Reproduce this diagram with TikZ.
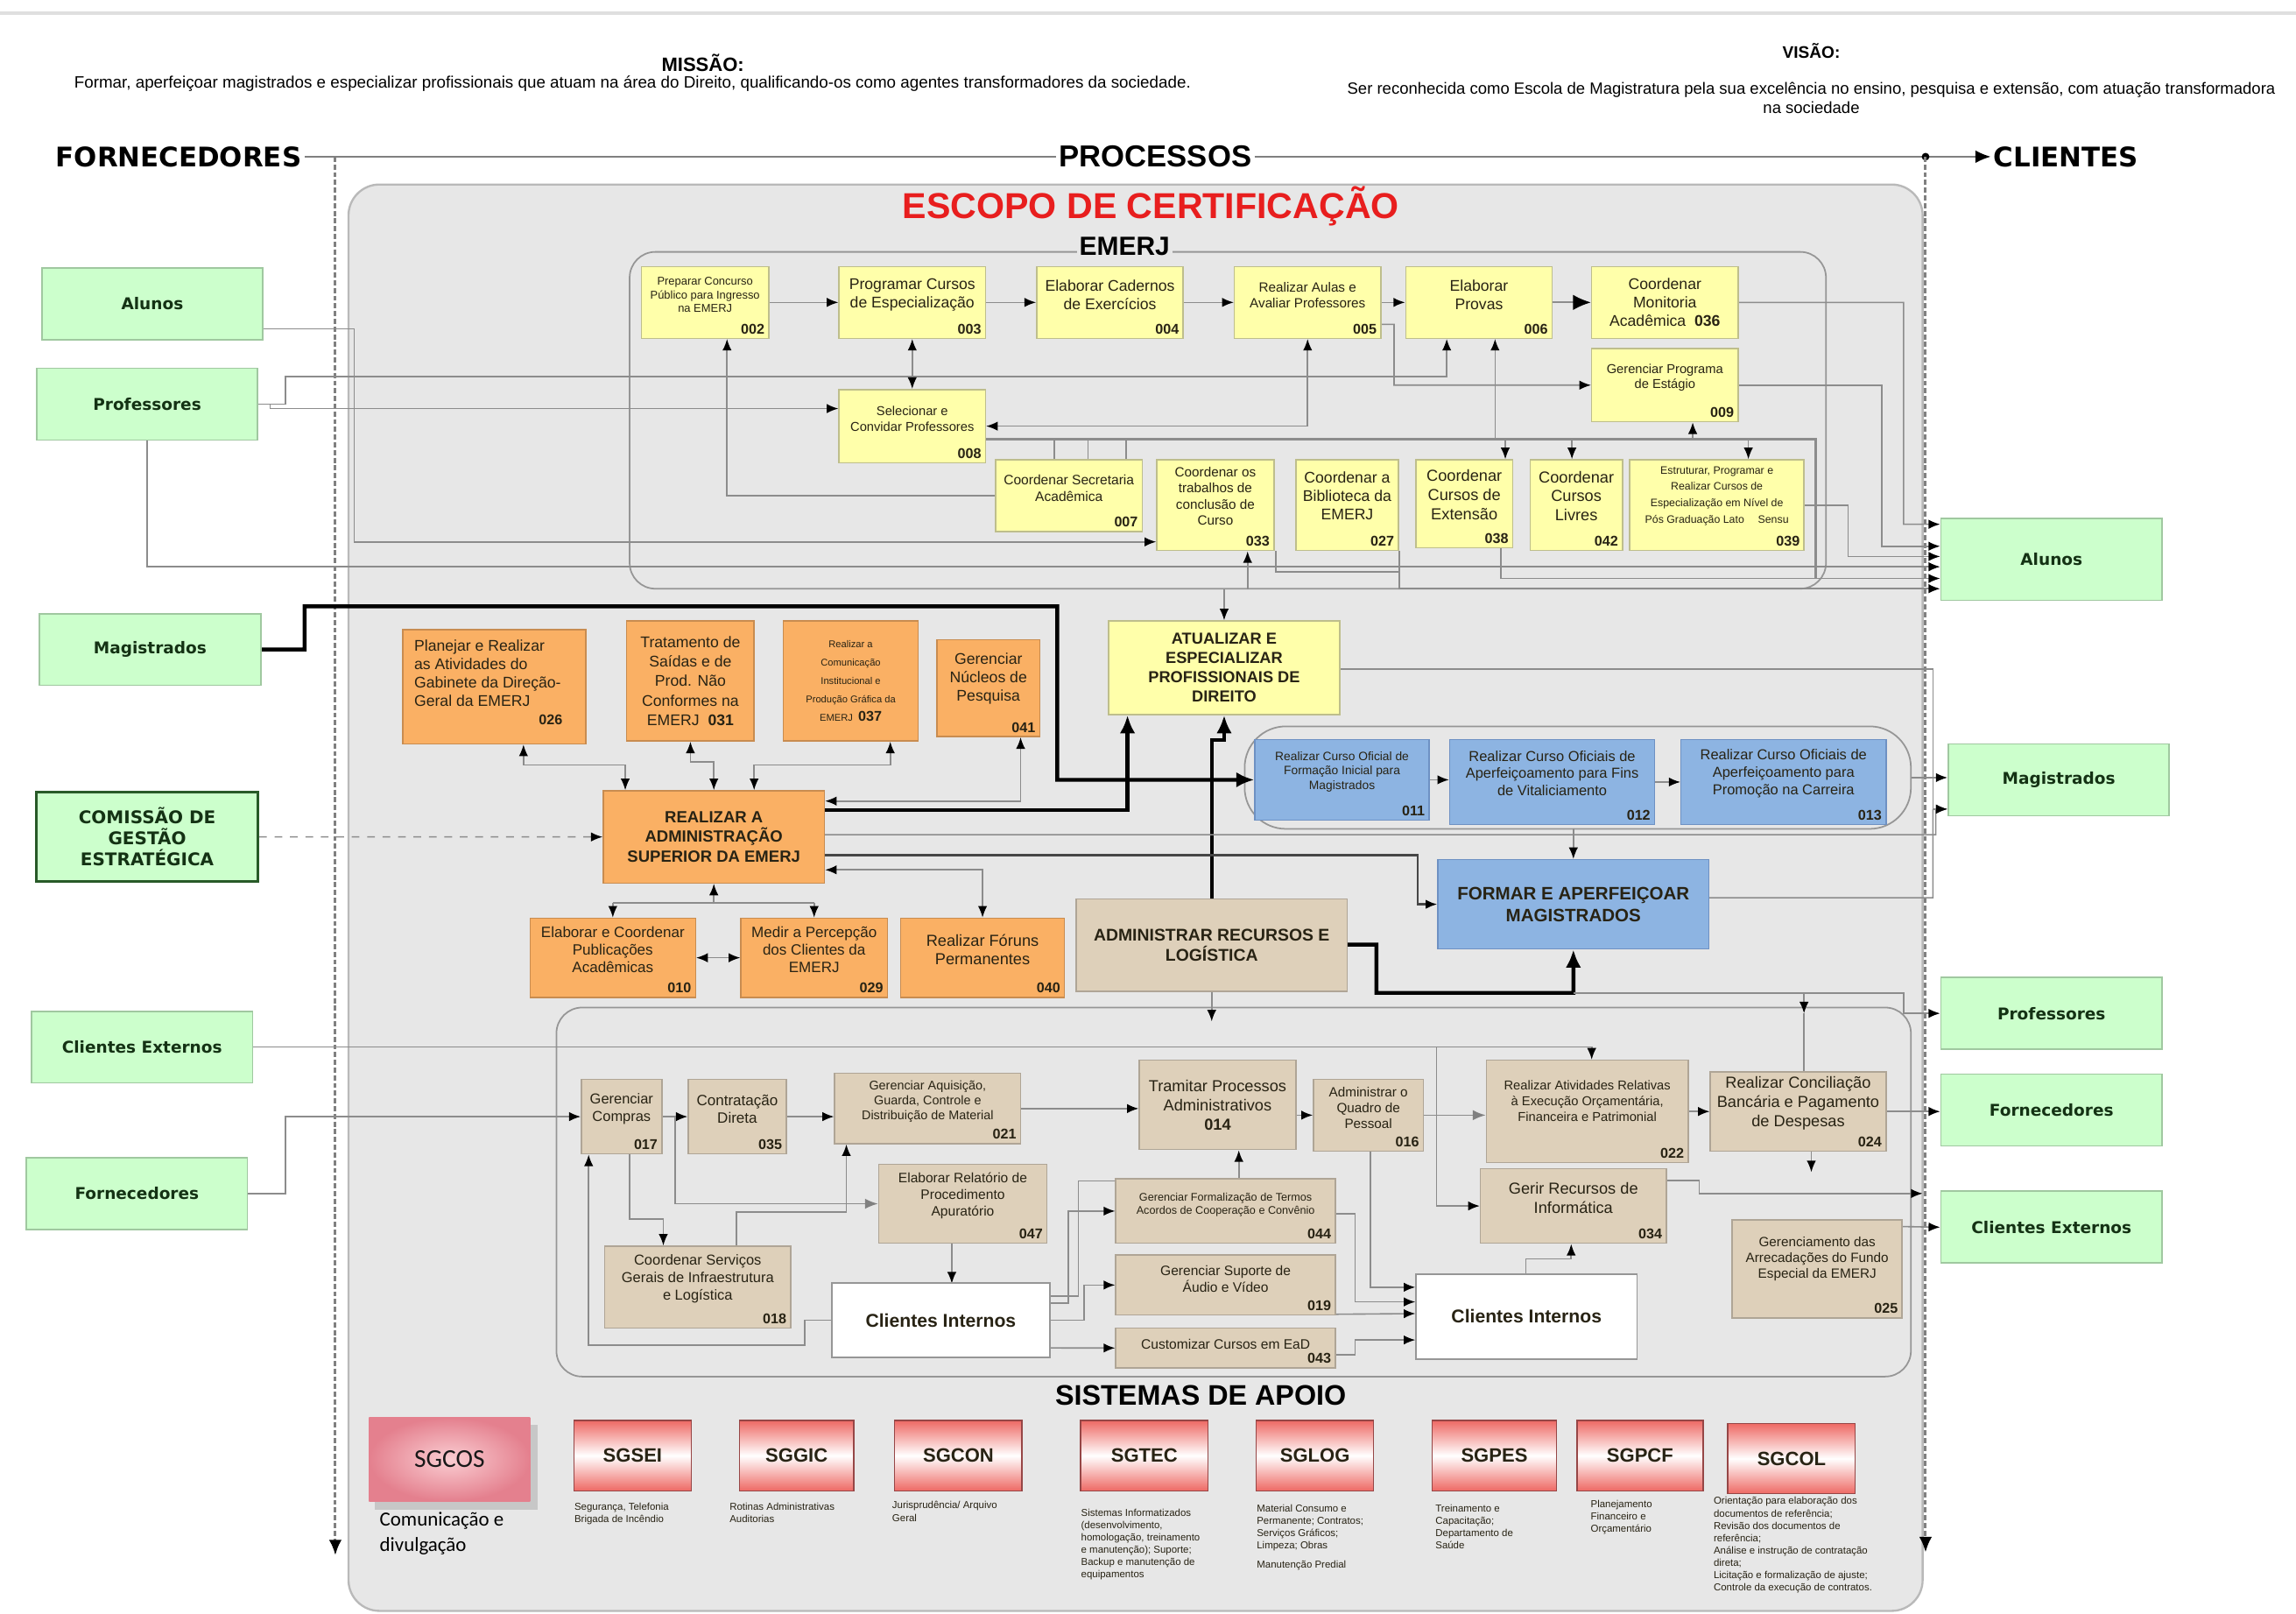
\documentclass[tikz,border=0pt]{standalone}
\usepackage{fontspec}
\setmainfont{Liberation Sans}
\newfontfamily\dejavu{DejaVu Sans}
\newfontfamily\carlito{Carlito}
\usetikzlibrary{arrows.meta,calc,fit}
\pgfdeclarelayer{back}
\pgfdeclarelayer{mid}
\pgfsetlayers{back,mid,main}

\definecolor{lgray}{RGB}{140,140,140}
\definecolor{dgray}{RGB}{70,70,70}
\definecolor{cgray}{RGB}{150,150,150}
\definecolor{scf}{RGB}{231,231,231}
\definecolor{scb}{RGB}{185,185,185}
\definecolor{yfill}{RGB}{255,255,170}
\definecolor{ydraw}{RGB}{190,190,140}
\definecolor{ofill}{RGB}{250,176,100}
\definecolor{odraw}{RGB}{200,140,80}
\definecolor{tfill}{RGB}{222,208,186}
\definecolor{tdraw}{RGB}{175,165,150}
\definecolor{bfill}{RGB}{141,180,226}
\definecolor{bdraw}{RGB}{110,145,195}
\definecolor{gfill}{RGB}{204,255,204}
\definecolor{gdraw}{RGB}{160,200,160}
\definecolor{gdark}{RGB}{40,90,40}
\definecolor{gtext}{RGB}{20,50,20}
\definecolor{escred}{RGB}{232,30,30}
\definecolor{pred}{RGB}{238,105,100}
\definecolor{pdraw}{RGB}{150,70,70}
\definecolor{tcol}{RGB}{40,35,20}
\definecolor{cosin}{RGB}{250,205,210}
\definecolor{cosout}{RGB}{228,128,142}

\newcommand\fs[1]{\fontsize{#1}{\fpeval{#1*1.2}}\selectfont}

\newcommand\bx[9]{%
  \node[#6, fit={(#2,#3) (#4,#5)}] (#1) {};
  \node[font={#7}, align=center, inner sep=0pt, text=tcol] at ($(#1.north)!0.4!(#1.south)$) {#8};
  \node[font=\fs{5.5}\bfseries, anchor=south east, inner sep=0pt, text=tcol] at ($(#1.south east)+(-3,-3)$) {#9};
}
\newcommand\bxc[8]{%
  \node[#6, fit={(#2,#3) (#4,#5)}] (#1) {};
  \node[font={#7}, align=center, inner sep=0pt, text=tcol] at (#1.center) {#8};
}

\begin{document}
\begin{tikzpicture}[x=0.02cm, y=-0.02cm,
  ybox/.style={draw=ydraw, fill=yfill, inner sep=0pt, line width=0.5pt},
  obox/.style={draw=odraw, fill=ofill, inner sep=0pt, line width=0.5pt},
  tbox/.style={draw=tdraw, fill=tfill, inner sep=0pt, line width=0.5pt},
  bbox/.style={draw=bdraw, fill=bfill, inner sep=0pt, line width=0.5pt},
  wbox/.style={draw=cgray, fill=white, inner sep=0pt, line width=0.5pt},
  gbox/.style={draw=gdraw, fill=gfill, line width=0.6pt, minimum width=3.02cm, minimum height=0.98cm, inner sep=1pt, font=\dejavu\bfseries\fs{6.3}, text=gtext, align=center},
  pbox/.style={draw=pdraw, line width=0.5pt, inner sep=0pt, top color=pred, bottom color=pred, middle color=white},
  cont/.style={draw=cgray, line width=0.6pt, inner sep=0pt, rounded corners=10pt},
  ln/.style={draw=lgray, line width=0.55pt},
  ar/.style={ln, -{Latex[length=4.5pt,width=3.6pt,color=black]}},
  ar2/.style={ln, {Latex[length=4.5pt,width=3.6pt,color=black]}-{Latex[length=4.5pt,width=3.6pt,color=black]}},
  thk/.style={draw=black, line width=1.5pt, -{Latex[length=7pt,width=6pt]}},
  hdr/.style={draw=gray, line width=0.7pt},
  vd/.style={draw=gray, line width=1pt, dash pattern=on 2pt off 1pt},
  capt/.style={font=\fontsize{3.9}{4.8}\selectfont, align=left, anchor=north west, inner sep=0pt, text=tcol},
  sglab/.style={font=\bfseries\fs{7.5}, text=tcol},
]
\useasboundingbox (0,0) rectangle (1568,1102);

\begin{pgfonlayer}{back}
\fill[white] (0,0) rectangle (1568,1102);
\draw[gray!25, line width=1.2pt] (0,9) -- (1568,9);
\node[fit={(238,126) (1313,1100)}, inner sep=0pt, draw=scb, fill=scf, line width=0.8pt, rounded corners=12pt] (scope) {};
\node[cont, fit={(430,172) (1247,402)}] (emerj) {};
\node[cont, fit={(850,496) (1305,566)}, rounded corners=16pt] (bcont) {};
\node[cont, fit={(380,688) (1305,940)}] (admc) {};
\end{pgfonlayer}

% ---------- header ----------
\node[font=\fs{7.5}\bfseries] (mis) at (480,43) {MISSÃO:};
\node[font=\fs{6.4}] (mist) at (432,57) {Formar, aperfeiçoar magistrados e especializar profissionais que atuam na área do Direito, qualificando-os como agentes transformadores da sociedade.};
\node[font=\fs{6.5}\bfseries] (vis) at (1237,35) {VISÃO:};
\node[font=\fs{6.3}, align=center] (vist) at (1237,67) {Ser reconhecida como Escola de Magistratura pela sua excelência no ensino, pesquisa e extensão, com atuação transformadora\\na sociedade};

\node[font=\dejavu\bfseries\fs{10.5}, inner sep=1pt] (forn) at (122,107) {FORNECEDORES};
\node[font=\bfseries\fs{11.8}, inner sep=1pt] (proc) at (789,107) {PROCESSOS};
\node[font=\dejavu\bfseries\fs{10.5}, inner sep=1pt] (cli) at (1411,107) {CLIENTES};
\coordinate (ldot) at (229,107);
\coordinate (rdot) at (1315,107);
\coordinate (lend) at (229,1062);
\coordinate (rend) at (1315,1060);

\node[font=\bfseries\fs{14}, text=escred] (esc) at (786,141) {ESCOPO DE CERTIFICAÇÃO};
\node[font=\bfseries\fs{10.2}, fill=scf, inner sep=1pt] (emt) at (768,168) {EMERJ};
\node[font=\bfseries\fs{11}] (sis) at (820,953) {SISTEMAS DE APOIO};

% ---------- green: suppliers / clients ----------
\node[gbox] (lal) at (104,207.5) {Alunos};
\node[gbox] (lpr) at (100.5,276) {Professores};
\node[gbox] (lmg) at (102.5,443.5) {Magistrados};
\node[gbox, draw=gdark, line width=1.1pt, minimum height=1.22cm, font=\dejavu\bfseries\fs{6.8}] (lcm) at (100.5,571.5) {COMISSÃO DE\\GESTÃO\\ESTRATÉGICA};
\node[gbox] (lce) at (97,715) {Clientes Externos};
\node[gbox] (lfo) at (93.5,815) {Fornecedores};

\node[gbox, minimum height=1.12cm] (ral) at (1401,382) {Alunos};
\node[gbox] (rmg) at (1406,532.5) {Magistrados};
\node[gbox] (rpr) at (1401,692) {Professores};
\node[gbox] (rfo) at (1401,758) {Fornecedores};
\node[gbox] (rce) at (1401,838) {Clientes Externos};

% ---------- EMERJ (yellow) ----------
\bx{n002}{438}{182}{525}{231}{ybox}{\fs{4.4}}{Preparar Concurso\\Público para Ingresso\\na EMERJ}{002}
\bx{n003}{573}{182}{673}{231}{ybox}{\fs{6}}{Programar Cursos\\de Especialização}{003}
\bx{n004}{708}{182}{808}{231}{ybox}{\fs{6}}{Elaborar Cadernos\\de Exercícios}{004}
\bx{n005}{843}{182}{943}{231}{ybox}{\fs{5.2}}{Realizar Aulas e\\Avaliar Professores}{005}
\bx{n006}{960}{182}{1060}{231}{ybox}{\fs{6}}{Elaborar\\Provas}{006}
\bxc{n036}{1087}{182}{1187}{231}{ybox}{\fs{6}}{Coordenar\\Monitoria\\Acadêmica \ \textbf{036}}
\bx{n009}{1087}{238}{1187}{288}{ybox}{\fs{5}}{Gerenciar Programa\\de Estágio}{009}
\bx{n008}{573}{266}{673}{316}{ybox}{\fs{5}}{Selecionar e\\Convidar Professores}{008}
\bx{n007}{680}{314}{780}{363}{ybox}{\fs{5.3}}{Coordenar Secretaria\\Acadêmica}{007}
\bx{n033}{790}{314}{870}{376}{ybox}{\fs{5.2}}{Coordenar os\\trabalhos de\\conclusão de\\Curso}{033}
\bx{n027}{885}{314}{955}{376}{ybox}{\fs{6}}{Coordenar a\\Biblioteca da\\EMERJ}{027}
\bx{n038}{967}{314}{1033}{374}{ybox}{\fs{6.2}}{Coordenar\\Cursos de\\Extensão}{038}
\bx{n042}{1045}{314}{1108}{376}{ybox}{\fs{6.2}}{Coordenar\\Cursos\\Livres}{042}
\bx{n039}{1113}{314}{1232}{376}{ybox}{\fontsize{4.2}{6.4}\selectfont}{Estruturar, Programar e\\Realizar Cursos de\\Especialização em Nível de\\Pós Graduação Lato \quad Sensu}{039}
\bxc{atu}{757}{424}{915}{488}{ybox}{\bfseries\fs{6.2}}{ATUALIZAR E\\ESPECIALIZAR\\PROFISSIONAIS DE\\DIREITO}

% ---------- orange ----------
\node[obox, fit={(275,430) (400,508)}] (n026) {};
\node[font=\fs{6}, align=left, anchor=north west, inner sep=0pt, text=tcol] at ($(n026.north west)+(8,7)$) {Planejar e Realizar\\as Atividades do\\Gabinete da Direção-\\Geral da EMERJ};
\node[font=\fs{5.5}\bfseries, anchor=east, inner sep=0pt, text=tcol] at ($(n026.north east)+(-16,62)$) {026};
\bxc{n031}{428}{424}{515}{506}{obox}{\fontsize{6}{7.6}\selectfont}{Tratamento de\\Saídas e de\\Prod. Não\\Conformes na\\EMERJ \ \textbf{031}}
\bxc{n037}{535}{424}{627}{506}{obox}{\fontsize{3.8}{7.2}\selectfont}{Realizar a\\Comunicação\\Institucional e\\Produção Gráfica da\\EMERJ \ {\fontsize{5.5}{6}\selectfont\bfseries 037}}
\bx{n041}{640}{437}{710}{503}{obox}{\fs{6}}{Gerenciar\\Núcleos de\\Pesquisa}{041}
\bxc{ras}{412}{540}{563}{603}{obox}{\bfseries\fs{6.3}}{REALIZAR A\\ADMINISTRAÇÃO\\SUPERIOR DA EMERJ}
\bx{n010}{362}{627}{475}{681}{obox}{\fs{5.8}}{Elaborar e Coordenar\\Publicações\\Acadêmicas}{010}
\bx{n029}{506}{627}{606}{681}{obox}{\fs{5.8}}{Medir a Percepção\\dos Clientes da\\EMERJ}{029}
\bx{n040}{615}{627}{727}{681}{obox}{\fs{6.2}}{Realizar Fóruns\\Permanentes}{040}

% ---------- blue / administrative ----------
\bxc{arl}{735}{614}{920}{677}{tbox}{\bfseries\fs{6.6}}{ADMINISTRAR RECURSOS E\\LOGÍSTICA}
\bx{n011}{857}{505}{976}{560}{bbox}{\fs{4.7}}{Realizar Curso Oficial de\\Formação Inicial para\\Magistrados}{011}
\bx{n012}{990}{505}{1130}{563}{bbox}{\fs{5.6}}{Realizar Curso Oficiais de\\Aperfeiçoamento para Fins\\de Vitaliciamento}{012}
\bx{n013}{1148}{505}{1288}{563}{bbox}{\fs{5.6}}{Realizar Curso Oficiais de\\Aperfeiçoamento para\\Promoção na Carreira}{013}
\bxc{fam}{982}{587}{1167}{648}{bbox}{\bfseries\fs{7}}{FORMAR E APERFEIÇOAR\\MAGISTRADOS}

% ---------- tan (bottom) ----------
\bx{n017}{397}{737}{452}{788}{tbox}{\fs{5.6}}{Gerenciar\\Compras}{017}
\bx{n035}{470}{737}{537}{788}{tbox}{\fs{5.8}}{Contratação\\Direta}{035}
\bx{n021}{570}{733}{697}{781}{tbox}{\fs{4.9}}{Gerenciar Aquisição,\\Guarda, Controle e\\Distribuição de Material}{021}
\bxc{n014}{778}{724}{885}{785}{tbox}{\fs{6.2}}{Tramitar Processos\\Administrativos\\\textbf{014}}
\bx{n016}{897}{737}{972}{786}{tbox}{\fs{5.2}}{Administrar o\\Quadro de\\Pessoal}{016}
\bx{n022}{1015}{724}{1153}{794}{tbox}{\fs{5}}{Realizar Atividades Relativas\\à Execução Orçamentária,\\Financeira e Patrimonial}{022}
\bx{n024}{1168}{732}{1288}{786}{tbox}{\fs{6.2}}{Realizar Conciliação\\Bancária e Pagamento\\de Despesas}{024}
\bx{n047}{600}{795}{715}{849}{tbox}{\fs{5.3}}{Elaborar Relatório de\\Procedimento\\Apuratório}{047}
\bx{n044}{762}{805}{912}{849}{tbox}{\fs{4.3}}{Gerenciar Formalização de Termos\\Acordos de Cooperação e Convênio}{044}
\bx{n034}{1011}{798}{1138}{849}{tbox}{\fs{6.2}}{Gerir Recursos de\\Informática}{034}
\bx{n018}{413}{851}{540}{907}{tbox}{\fs{5.6}}{Coordenar Serviços\\Gerais de Infraestrutura\\e Logística}{018}
\bxc{ci1}{568}{876}{717}{927}{wbox}{\bfseries\fs{7.2}}{Clientes Internos}
\bx{n019}{762}{857}{912}{898}{tbox}{\fs{5.3}}{Gerenciar Suporte de\\Áudio e Vídeo}{019}
\bx{n043}{762}{907}{912}{934}{tbox}{\fs{5.3}}{Customizar Cursos em EaD}{043}
\bxc{ci2}{967}{870}{1118}{928}{wbox}{\bfseries\fs{7.2}}{Clientes Internos}
\bx{n025}{1183}{833}{1299}{900}{tbox}{\fs{5.2}}{Gerenciamento das\\Arrecadações do Fundo\\Especial da EMERJ}{025}

% ---------- support systems ----------
\fill[black!22] (256,973) rectangle (367,1031);
\node[fit={(252,968) (362,1025)}, inner sep=0pt, inner color=cosin, outer color=cosout, label={[font=\carlito\fs{10}, text=black!90]center:SGCOS}] (sgcos) {};
\node[pbox, fit={(392,970) (472,1018)}, label={[sglab]center:SGSEI}] (sgsei) {};
\node[pbox, fit={(505,970) (583,1018)}, label={[sglab]center:SGGIC}] (sggic) {};
\node[pbox, fit={(611,970) (698,1018)}, label={[sglab]center:SGCON}] (sgcon) {};
\node[pbox, fit={(738,970) (825,1018)}, label={[sglab]center:SGTEC}] (sgtec) {};
\node[pbox, fit={(858,970) (938,1018)}, label={[sglab]center:SGLOG}] (sglog) {};
\node[pbox, fit={(978,970) (1063,1018)}, label={[sglab]center:SGPES}] (sgpes) {};
\node[pbox, fit={(1077,970) (1163,1018)}, label={[sglab]center:SGPCF}] (sgpcf) {};
\node[pbox, fit={(1180,972) (1267,1020)}, label={[sglab]center:SGCOL}] (sgcol) {};

\node[font=\carlito\fontsize{7.8}{10}\selectfont, align=left, anchor=north west, inner sep=0pt] at (259,1032) {Comunicação e\\divulgação};
\node[capt] at (392,1026) {Segurança, Telefonia\\Brigada de Incêndio};
\node[capt] at (498,1026) {Rotinas Administrativas\\Auditorias};
\node[capt] at (609,1025) {Jurisprudência/ Arquivo\\Geral};
\node[capt] at (738,1030) {Sistemas Informatizados\\(desenvolvimento,\\homologação, treinamento\\e manutenção); Suporte;\\Backup e manutenção de\\equipamentos};
\node[capt] at (858,1027) {Material Consumo e\\Permanente; Contratos;\\Serviços Gráficos;\\Limpeza; Obras\\[2.5pt]Manutenção Predial};
\node[capt] at (980,1027) {Treinamento e\\Capacitação;\\Departamento de\\Saúde};
\node[capt] at (1086,1024) {Planejamento\\Financeiro e\\Orçamentário};
\node[capt] at (1170,1022) {Orientação para elaboração dos\\documentos de referência;\\Revisão dos documentos de\\referência;\\Análise e instrução de contratação\\direta;\\Licitação e formalização de ajuste;\\Controle da execução de contratos.};

% ================= connectors =================
\begin{pgfonlayer}{mid}
% header axis
\draw[hdr] (forn.east) -- (proc.west);
\draw[hdr, -{Latex[length=6pt,width=5pt,color=black]}] (proc.east) -- (cli.west);
\fill (rdot) circle (1.5pt);
\draw[vd, -{Latex[length=6pt,width=5pt,color=black]}] (ldot) -- (lend);
\draw[vd, -{Latex[length=6pt,width=5pt,color=black]}] (rdot) -- (rend);

% suppliers
\draw[ar] ($(lal.east)+(0,17)$) -- (242,224.5) -- (242,370) -- ($(n033.west)+(0,25)$);
\draw[ar] (lpr.east) -- ++(8,0) |- ($(n008.west)+(0,-12)$);
\draw[ar] (lpr.east) -- (195,276) -- (195,257) -| ($(n006.south)+(-22,0)$);
\draw[ar] (lpr.south) |- ($(ral.west)+(0,5)$);
\draw[thk] (lmg.east) -- (208,443.5) -- (208,414) -- (722,414) -- (722,532.5) -- (n011.west);
\draw[ar, dashed] (lcm.east) -- (ras.west);
\draw[ar] (lce.east) -| ($(n022.north)+(3,0)$);
\draw[ar] (981,715) |- (n034.west);
\draw[ar] (lfo.east) -- (195,815) |- (n017.west);

% EMERJ internal
\draw[ar] (n002.east) -- (n003.west);
\draw[ar] (n003.east) -- (n004.west);
\draw[ar] (n004.east) -- (n005.west);
\draw[ar] (n005.east) -- (n006.west);
\draw[draw=lgray, line width=0.8pt, -{Latex[length=7pt,width=6pt,color=black]}] (n006.east) -- (n036.west);
\draw[ar2] (n003.south) -- (n008.north);
\draw[ar] (n007.west) -| ($(n002.south)+(15,0)$);
\draw[ar2] (n008.east) -| (n005.south);
\draw[ar] ($(n005.east)+(0,15)$) -- (952,221.5) |- (n009.west);
\draw[ln, line width=0.9pt] ($(n008.east)+(0,9)$) -- (1240,300) -- (1240,395);
\draw[ln] ($(n007.north)+(-10,0)$) -- ++(0,-14);
\draw[ln] ($(n007.north)+(13,0)$) -- ++(0,-14);
\draw[ln] ($(n007.north)+(39,0)$) -- ++(0,-14);
\draw[ar] ($(n038.north)+(28,-14)$) -- ($(n038.north)+(28,0)$);
\draw[ar] ($(n042.north)+(-3,-14)$) -- ($(n042.north)+(-3,0)$);
\draw[ar] ($(n039.north)+(21.5,-14)$) -- ($(n039.north)+(21.5,0)$);
\draw[ar] ($(n009.south)+(19,12)$) -- ($(n009.south)+(19,0)$);
\draw[ar] ($(n006.south)+(11,69)$) -- ($(n006.south)+(11,0)$);
\draw[ar] ($(n033.south)+(22,26)$) -- ($(n033.south)+(22,0)$);

% EMERJ -> Alunos
\draw[ar] (n036.east) -- (1300,206.5) |- ($(ral.west)+(0,-24)$);
\draw[ar] (n009.east) -- (1285,263) |- ($(ral.west)+(0,-9)$);
\draw[ar] (n039.east) -- (1262,345) |- ($(ral.west)+(0,-2)$);
\draw[ar] ($(n038.south)+(25,0)$) |- ($(ral.west)+(0,13)$);
\draw[ar] (n027.south east) |- ($(ral.west)+(0,20)$);
\draw[ln] ($(n033.south east)+(1,0)$) -- ++(0,14) -- ++(85,0);

% EMERJ -> ATU
\draw[ar] (emerj.south -| atu.north) -- (atu.north);

% thick flows
\draw[thk] ($(ras.east)+(0,-18.5)$) -| ($(atu.south)+(-66,0)$);
\draw[thk] (arl.north) |- ($(atu.south)+(0,17)$) -- (atu.south);
\draw[thk] ($(arl.east)+(0,-0.5)$) -- (940,645) -- (940,678) -| (fam.south);
\draw[ar] (1074.5,678) -- (1300,678) |- (rpr.west);
\draw[ar] (1232,678) -- (1232,692);
\draw[ln] (1232,692) -- ($(n024.north)+(4,0)$);

% blue
\draw[ar] (n011.east) -- (n011.east -| n012.west);
\draw[ar] (n012.east) -- (n012.east -| n013.west);
\draw[ar] ($(fam.north)+(0,-21)$) -- (fam.north);
\draw[ar, draw=dgray, line width=0.8pt] ($(ras.east)+(0,12.5)$) -- (968,584) |- (fam.west);
\draw[ar] ($(ras.east)+(0,-1.5)$) -- (1322,570) |- ($(rmg.west)+(0,20)$);
\draw[ar] ($(atu.east)+(0,1)$) -- (1320,457) |- ($(rmg.west)+(0,20)$);
\draw[ln] ($(fam.east)+(0,-4.5)$) -- (1320,613) -- (1320,552.5);
\draw[ar] (bcont.east) -- (rmg.west |- bcont.east);

% orange
\draw[ar2] ($(n026.south)+(20,0)$) -- ++(0,14) -| ($(ras.north)+(-60.5,0)$);
\draw[ar2] (n031.south) -- ++(0,14) -| (ras.north);
\draw[ar2] ($(n037.south)+(27,0)$) -- ++(0,16) -| ($(ras.north)+(27.5,0)$);
\draw[ar2] ($(n041.south)+(22,0)$) |- ($(ras.east)+(0,-24.5)$);
\draw[ln] ($(n010.north)+(0,-10)$) -- ($(n029.north)+(0,-10)$);
\draw[ar] ($(n010.north)+(0,-10)$) -- (n010.north);
\draw[ar] ($(n029.north)+(0,-10)$) -- (n029.north);
\draw[ar] ($(ras.south)+(0,14)$) -- (ras.south);
\draw[ar2] ($(ras.east)+(0,22.5)$) -| (n040.north);
\draw[ar2] (n010.east) -- (n029.west);

% administration
\draw[ar] (arl.south) -- ++(0,20);
\draw[ar] (n017.east) -- (n035.west);
\draw[ar] (n035.east) -- (n035.east -| n021.west);
\draw[ar] (n021.east) -- (n021.east -| n014.west);
\draw[ar] ($(n014.east)+(0,7)$) -- (n016.west);
\draw[ln, -{Latex[length=5pt,width=4pt,color=gray]}] (n016.east) -- (n016.east -| n022.west);
\draw[ar] (n022.east) -- (n022.east -| n024.west);
\draw[ar] ($(n017.south)+(5.5,0)$) -- ++(0,44) -| ($(n018.north)+(-23.5,0)$);
\draw[ln, -{Latex[length=5pt,width=4pt,color=gray]}] ($(n017.east)!0.5!(n035.west)$) |- (n047.west);
\draw[ar] ($(n018.north)+(26.5,0)$) -- ++(0,-23) -| ($(n021.south)+(-55.5,0)$);
\draw[ar] ($(n047.south)+(-7.5,0)$) -- ++(0,27);
\draw[ar] (ci1.west) -- ++(-18,0) -- ++(0,17) -| ($(n017.south)+(-22.5,0)$);
\draw[ar] ($(ci1.east)+(0,-16.5)$) -- ++(19,0) |- ($(n014.south)+(14.5,21)$) -- ($(n014.south)+(14.5,0)$);
\draw[ar] ($(ci1.east)+(0,-11.5)$) -- ++(12,0) |- (n044.west);
\draw[ar] (ci1.east) -- ++(23,0) |- (n019.west);
\draw[ar] ($(ci1.south east)+(0,-7)$) -- (n043.west);
\draw[ar] ($(n016.south)+(1.5,0)$) |- ($(ci2.west)+(0,-20)$);
\draw[ar] ($(n044.east)+(0,2)$) -- ++(13,0) |- ($(ci2.west)+(0,-10)$);
\draw[ar] ($(n019.south east)+(0,-1)$) -- ($(ci2.west)+(0,-2)$);
\draw[ar] ($(n043.east)+(0,4.5)$) -- ++(13,0) |- ($(ci2.west)+(0,16)$);
\draw[ar] ($(ci2.north)+(-0.5,0)$) -- ++(0,-10) -| ($(n034.south)+(-1.5,0)$);
\coordinate (rv815) at (1313,815);
\draw[ar] ($(n034.east)+(0,-17.5)$) -- ++(22,0) |- (rv815);
\draw[ar] ($(n024.south)+(9,0)$) -- ++(0,14);
\draw[ar] (n024.east) -- (n024.east -| rfo.west);
\draw[ar] ($(n025.north east)+(0,5)$) -- (rce.west);
\end{pgfonlayer}
\end{tikzpicture}
\end{document}
